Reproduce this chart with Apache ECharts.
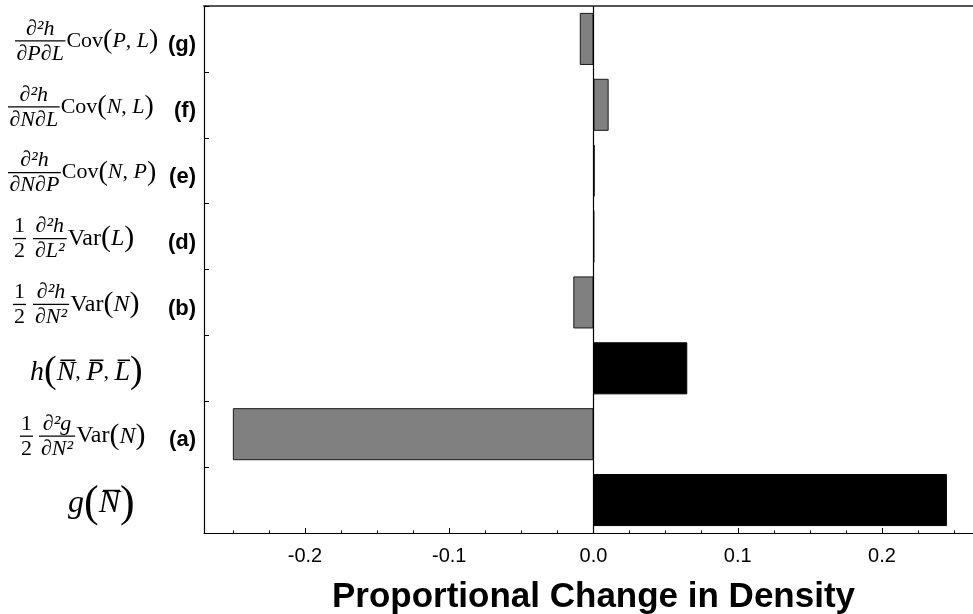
<!DOCTYPE html>
<html><head><meta charset="utf-8">
<script src="https://cdn.jsdelivr.net/npm/echarts@6/dist/echarts.min.js"></script>
<style>html,body{margin:0;padding:0;background:#fff}#c{width:973px;height:614px}</style>
</head><body><div id="c"></div><script>
// ---------------- data ----------------
const categories = [
  'g(N̄)',
  '1/2 ∂²g/∂N² Var(N) (a)',
  'h(N̄, P̄, L̄)',
  '1/2 ∂²h/∂N² Var(N) (b)',
  '1/2 ∂²h/∂L² Var(L) (d)',
  '∂²h/∂N∂P Cov(N, P) (e)',
  '∂²h/∂N∂L Cov(N, L) (f)',
  '∂²h/∂P∂L Cov(P, L) (g)'
];
const values = [0.245, -0.250, 0.065, -0.014, 0.0004, 0.0008, 0.0105, -0.0095];
const termType = ['mean', 'correction', 'mean', 'correction', 'correction', 'correction', 'correction', 'correction'];
const xTickValues = [-0.2, -0.1, 0, 0.1, 0.2];
const xMinorTickValues = [-0.25, -0.225, -0.175, -0.15, -0.125, -0.075, -0.05, -0.025,
                          0.025, 0.05, 0.075, 0.125, 0.15, 0.175, 0.225, 0.25];
const xAxisTitle = 'Proportional Change in Density';

// ---------------- label typesetting (math-like rich text) ----------------
const SERIF = 'Liberation Serif', SANS = 'Liberation Sans';
const IT = s => ({fontFamily: SERIF, fontStyle: 'italic', fontWeight: 'normal', fontSize: s});
const RM = s => ({fontFamily: SERIF, fontStyle: 'normal', fontWeight: 'normal', fontSize: s});
const TAG = {fontFamily: SANS, fontStyle: 'normal', fontWeight: 'bold', fontSize: 22};
const mctx = document.createElement('canvas').getContext('2d');
function textW(t, f) {
  mctx.font = f.fontStyle + ' ' + f.fontWeight + ' ' + f.fontSize + 'px ' + f.fontFamily;
  return mctx.measureText(t).width;
}
const rich = {};
let nStyle = 0;
function reg(o) { const k = 'r' + (nStyle++); rich[k] = o; return k; }
function buildLine(items, lh) {
  let cur = 0, s = '';
  for (const it of items) {
    if (it.right) {
      s += '{' + reg(Object.assign({}, it.f, {align: 'right', lineHeight: lh, color: '#000', padding: it.pad || 0})) + '|' + it.text + '}';
      continue;
    }
    if (it.x != null && it.x > cur + 0.01) {
      s += '{' + reg({width: it.x - cur, align: 'left', lineHeight: lh, fontSize: 1}) + '| }';
      cur = it.x;
    }
    if (it.bar) {
      s += '{' + reg({width: it.w, height: it.h || 1.3, backgroundColor: '#000', align: 'left', lineHeight: lh, fontSize: 1}) + '| }';
      cur += it.w;
    } else {
      s += '{' + reg(Object.assign({}, it.f, {align: 'left', lineHeight: lh, color: '#000'})) + '|' + it.text + '}';
      cur += textW(it.text, it.f);
    }
  }
  return s;
}
const F = IT(22), R = RM(22), PAR = RM(28);
const FV = IT(24), RV = RM(24), PARV = RM(30);
function fracLabel(sp) {
  const wNum = textW(sp.num, F), wDen = textW(sp.den, F);
  const Wf = Math.max(wNum, wDen) + 3, X = sp.x0;
  const l1 = buildLine([{x: X + (Wf - wNum) / 2, text: sp.num, f: F}], 20);
  const l2 = buildLine([
    {x: X, bar: true, w: Wf}, {x: X + Wf + 1, text: sp.fn, f: R}, {text: '(', f: PAR},
    {text: sp.a, f: F}, {text: ', ', f: R}, {text: sp.b, f: F}, {text: ')', f: PAR},
    {right: true, text: sp.tag, f: TAG, pad: [8, 0, 0, 0]}], 4);
  const l3 = buildLine([{x: X + (Wf - wDen) / 2, text: sp.den, f: F}], 22);
  return l1 + '\n' + l2 + '\n' + l3;
}
function halfLabel(sp) {
  const w1 = textW('1', R), w2 = textW('2', R), wh = Math.max(w1, w2) + 2;
  const wNum = textW(sp.num, F), wDen = textW(sp.den, F);
  const Wf = Math.max(wNum, wDen) + 4;
  const l1 = buildLine([{x: sp.h0 + (wh - w1) / 2, text: '1', f: R}, {x: sp.xf + (Wf - wNum) / 2, text: sp.num, f: F}], 20);
  const l2 = buildLine([
    {x: sp.h0, bar: true, w: wh}, {x: sp.xf, bar: true, w: Wf},
    {x: sp.xf + Wf + 1, text: sp.fn, f: RV}, {text: '(', f: PARV}, {text: sp.v, f: FV}, {text: ')', f: PARV},
    {right: true, text: sp.tag, f: TAG, pad: [8, 0, 0, 0]}], 4);
  const l3 = buildLine([{x: sp.h0 + (wh - w2) / 2, text: '2', f: R}, {x: sp.xf + (Wf - wDen) / 2, text: sp.den, f: F}], 22);
  return l1 + '\n' + l2 + '\n' + l3;
}
function meanLabel(sp) {
  let x = sp.x0; const over = [], main = [];
  sp.parts.forEach((p, i) => {
    const w = textW(p.t, p.f);
    main.push(i === 0 ? {x: x, text: p.t, f: p.f} : {text: p.t, f: p.f});
    if (p.over) over.push({x: x + 0.2 * w, bar: true, w: 0.8 * w, h: 1.6});
    x += w;
  });
  return buildLine(over, 2) + '\n' + buildLine(main, sp.lh);
}
const labelSpecs = [
  {kind: 'mean', x0: 62, lh: 25, parts: [{t: 'g', f: IT(32)}, {t: '(', f: RM(44)}, {t: 'N', f: IT(32), over: true}, {t: ')', f: RM(44)}]},
  {kind: 'half', h0: 14, xf: 33, num: '∂²g', den: '∂N²', fn: 'Var', v: 'N', tag: '(a)'},
  {kind: 'mean', x0: 24, lh: 22, parts: [{t: 'h', f: IT(28)}, {t: '(', f: RM(38)}, {t: 'N', f: IT(28), over: true},
    {t: ', ', f: RM(22)}, {t: 'P', f: IT(28), over: true}, {t: ', ', f: RM(22)}, {t: 'L', f: IT(28), over: true}, {t: ')', f: RM(38)}]},
  {kind: 'half', h0: 7, xf: 27, num: '∂²h', den: '∂N²', fn: 'Var', v: 'N', tag: '(b)'},
  {kind: 'half', h0: 7, xf: 27, num: '∂²h', den: '∂L²', fn: 'Var', v: 'L', tag: '(d)'},
  {kind: 'frac', x0: 2, num: '∂²h', den: '∂N∂P', fn: 'Cov', a: 'N', b: 'P', tag: '(e)'},
  {kind: 'frac', x0: 2, num: '∂²h', den: '∂N∂L', fn: 'Cov', a: 'N', b: 'L', tag: '(f)'},
  {kind: 'frac', x0: 9, num: '∂²h', den: '∂P∂L', fn: 'Cov', a: 'P', b: 'L', tag: '(g)'}
];
const labelStrings = labelSpecs.map(sp => sp.kind === 'mean' ? meanLabel(sp) : sp.kind === 'half' ? halfLabel(sp) : fracLabel(sp));

// ---------------- chart ----------------
const chart = echarts.init(document.getElementById('c'), null, {renderer: 'canvas'});
const XMIN = -0.27, XMAX = 0.27;
const meanStyle = {color: '#000000', borderColor: '#000000', borderWidth: 1};
const corrStyle = {color: '#808080', borderColor: '#1a1a1a', borderWidth: 1};
chart.setOption({
  animation: false,
  backgroundColor: '#ffffff',
  grid: {left: 204, right: -10, top: 6, bottom: 81, containLabel: false, outerBoundsMode: 'none'},
  xAxis: [
    {
      type: 'value', min: XMIN, max: XMAX, position: 'bottom',
      axisLine: {show: true, lineStyle: {color: '#000', width: 1.2}},
      axisTick: {show: true, inside: true, length: 5, customValues: xTickValues, lineStyle: {color: '#000', width: 1}},
      axisLabel: {show: true, customValues: xTickValues, formatter: v => v.toFixed(1), margin: 13,
        fontFamily: SANS, fontSize: 20, color: '#000'},
      splitLine: {show: false},
      name: xAxisTitle, nameLocation: 'middle', nameGap: 47,
      nameTextStyle: {fontFamily: SANS, fontWeight: 'bold', fontSize: 35, color: '#000'}
    },
    {
      type: 'value', min: XMIN, max: XMAX, position: 'bottom',
      axisLine: {show: false},
      axisTick: {show: true, inside: true, length: 2.5, customValues: xMinorTickValues, lineStyle: {color: '#000', width: 1}},
      axisLabel: {show: false}, splitLine: {show: false}
    },
    {
      type: 'value', min: XMIN, max: XMAX, position: 'top',
      axisLine: {show: true, lineStyle: {color: '#555', width: 2}},
      axisTick: {show: false}, axisLabel: {show: false}, splitLine: {show: false}
    }
  ],
  yAxis: {
    type: 'category', data: categories, position: 'left',
    axisLine: {show: true, onZero: false, lineStyle: {color: '#000', width: 1.2}},
    axisTick: {show: true, inside: true, length: 5, lineStyle: {color: '#000'}},
    axisLabel: {
      show: true, interval: 0, align: 'left', margin: 198, width: 190, overflow: 'none',
      padding: [6, 0, 0, 0], color: '#000',
      formatter: (value, index) => labelStrings[index],
      rich: rich
    },
    splitLine: {show: false}
  },
  series: [{
    type: 'bar',
    xAxisIndex: 0,
    barWidth: '79%',
    data: values.map((v, i) => ({value: v, itemStyle: termType[i] === 'mean' ? meanStyle : corrStyle})),
    emphasis: {disabled: true},
    markLine: {
      silent: true, symbol: ['none', 'none'], label: {show: false},
      lineStyle: {color: '#000', width: 1.2, type: 'solid'},
      data: [{xAxis: 0}]
    }
  }]
});
</script></body></html>
